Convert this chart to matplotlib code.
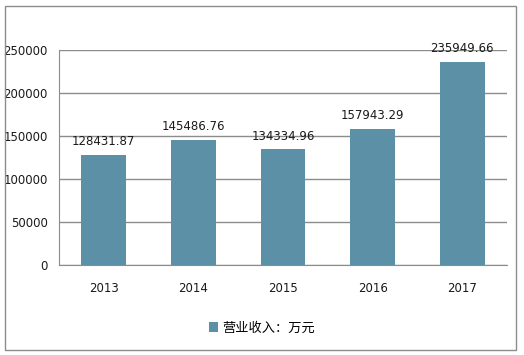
import matplotlib.pyplot as plt
from matplotlib.patches import Rectangle

plt.rcParams['font.family'] = ['DejaVu Sans', 'Noto Sans CJK SC']

years = ['2013', '2014', '2015', '2016', '2017']
revenue = [128431.87, 145486.76, 134334.96, 157943.29, 235949.66]
legend_label = '营业收入：万元'
bar_color = '#5b90a7'
grid_color = '#8c8c8c'


def main():
  fig = plt.figure(figsize=(5.24, 3.55), dpi=100)
  ax = fig.add_axes([59/524, 1 - 265/355, 448/524, 215/355])

  x = range(len(years))
  bars = ax.bar(x, revenue, width=0.5, color=bar_color, zorder=3, label=legend_label)
  for b, v in zip(bars, revenue):
    ax.annotate(f'{v:.2f}', (b.get_x() + b.get_width()/2, v),
                xytext=(0, 5), textcoords='offset points',
                ha='center', va='bottom', fontsize=8.5, color='#1a1a1a')

  ax.set_xlim(-0.5, len(years) - 0.5)
  ax.set_ylim(0, 250000)
  ax.set_yticks(range(0, 250001, 50000))
  ax.set_xticks(list(x))
  ax.set_xticklabels(years)
  ax.tick_params(axis='both', length=0, labelsize=8.5, colors='#1a1a1a')
  ax.tick_params(axis='x', pad=12)
  ax.tick_params(axis='y', pad=8)
  ax.yaxis.grid(True, color=grid_color, linewidth=1, zorder=0)

  for s in ['top', 'right']:
    ax.spines[s].set_visible(False)
  ax.spines['left'].set_color(grid_color)
  ax.spines['bottom'].set_color(grid_color)

  leg = fig.legend(handles=[bars], labels=[legend_label], loc='center',
                   bbox_to_anchor=(262/524, 1 - 328/355), frameon=False,
                   handlelength=0.7, handleheight=0.7, handletextpad=0.3,
                   prop={'family': ['Noto Sans CJK SC'], 'size': 9.5})

  border = Rectangle((5/524, 5/355), 511/524, 344/355, transform=fig.transFigure,
                     fill=False, edgecolor='#8c8c8c', linewidth=1)
  fig.patches.append(border)

  fig.savefig('out.png', dpi=100)


if __name__ == '__main__':
  main()
